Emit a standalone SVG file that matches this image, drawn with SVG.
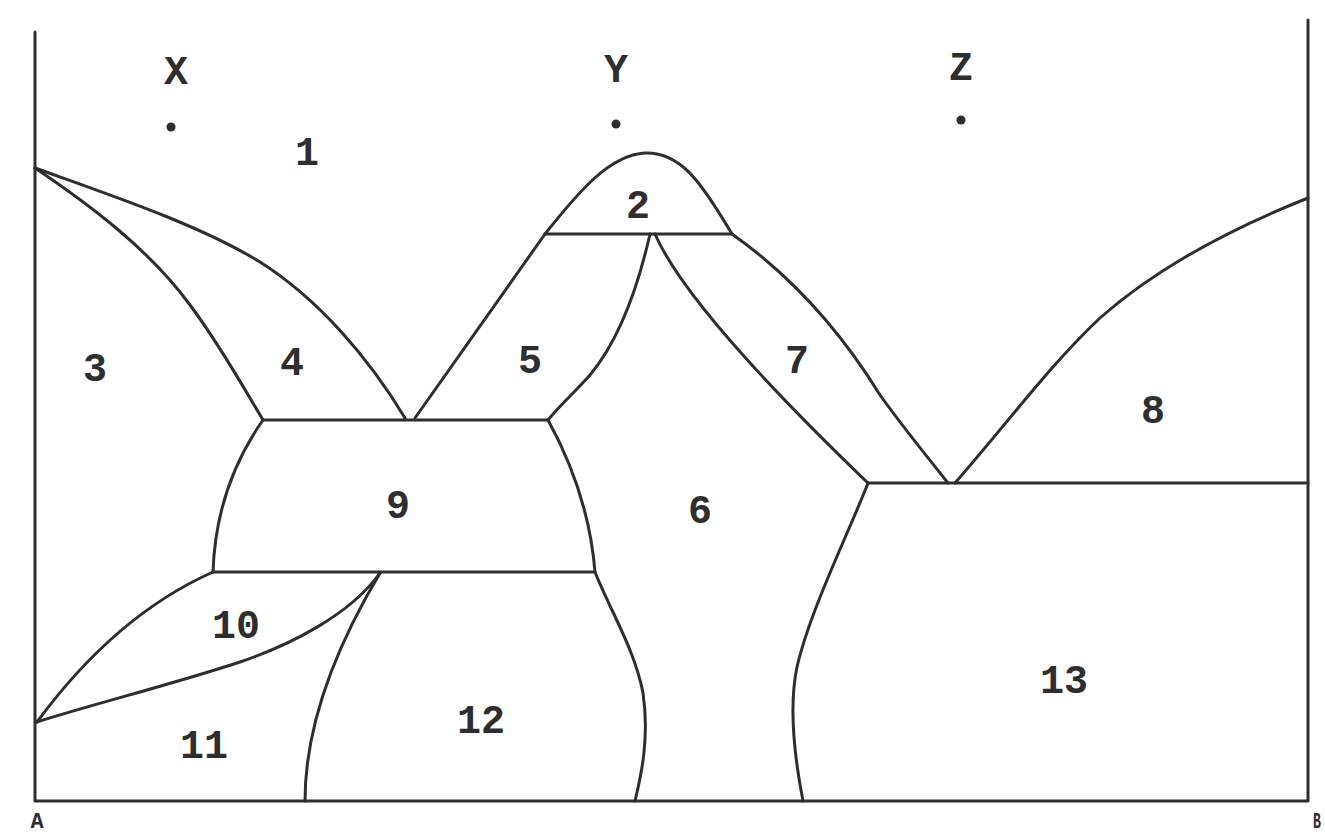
<svg xmlns="http://www.w3.org/2000/svg" width="1325" height="840" viewBox="0 0 1325 840">
<style>
.ln{fill:none;stroke:#2e2e2e;stroke-width:3;stroke-linejoin:round;stroke-linecap:round}
.lb{font-family:"Liberation Mono",monospace;font-weight:bold;font-size:40px;fill:#2e2e2e;text-anchor:middle}
.cn{font-family:"Liberation Mono",monospace;font-weight:bold;font-size:22px;fill:#2e2e2e}
.pt{fill:#2e2e2e}
</style>
<rect width="1325" height="840" fill="#ffffff"/>
<g id="axes">
<path class="ln" d="M35,32 V801 H1308 V20"/>
</g>
<g id="connectors">
<path class="ln" d="M35,168 C110,195 200,225 260,262 C320,300 370,360 405,418"/>
<path class="ln" d="M35,168 C90,205 150,250 190,305 C220,345 245,390 263,420"/>
<path class="ln" d="M263,420 H548"/>
<path class="ln" d="M415,418 L545,234"/>
<path class="ln" d="M545,234 H732"/>
<path class="ln" d="M545,234 C580,190 610,155 645,153 C680,152 700,180 732,234"/>
<path class="ln" d="M650,234 C635,300 615,345 590,375 C575,392 560,405 548,420"/>
<path class="ln" d="M655,234 Q688,310 868,483"/>
<path class="ln" d="M732,234 C790,275 840,330 880,395 C905,430 930,460 948,483"/>
<path class="ln" d="M955,483 C1010,420 1050,365 1100,318 C1160,265 1240,225 1308,198"/>
<path class="ln" d="M868,483 H1308"/>
<path class="ln" d="M868,483 C850,530 810,610 797,667 C788,710 795,760 803,801"/>
<path class="ln" d="M548,420 C570,460 590,510 595,572"/>
<path class="ln" d="M595,572 C610,610 635,650 643,693 C650,740 640,780 635,801"/>
<path class="ln" d="M263,420 C235,460 215,510 213,572"/>
<path class="ln" d="M213,572 H595"/>
<path class="ln" d="M213,572 C150,600 90,650 37,722"/>
<path class="ln" d="M380,573 C350,615 290,645 240,662 C170,685 90,705 37,722"/>
<path class="ln" d="M380,573 C340,640 305,720 305,801"/>
</g>
<g id="point-X"><text class="lb" x="176" y="84">X</text><circle class="pt" cx="171" cy="127" r="4.5"/></g>
<g id="point-Y"><text class="lb" x="616" y="82">Y</text><circle class="pt" cx="616" cy="124" r="4.5"/></g>
<g id="point-Z"><text class="lb" x="961" y="80">Z</text><circle class="pt" cx="961" cy="120" r="4.5"/></g>
<g id="region-1"><text class="lb" x="307" y="165">1</text></g>
<g id="region-2"><text class="lb" x="638" y="218">2</text></g>
<g id="region-3"><text class="lb" x="95" y="381">3</text></g>
<g id="region-4"><text class="lb" x="292" y="375">4</text></g>
<g id="region-5"><text class="lb" x="530" y="373">5</text></g>
<g id="region-6"><text class="lb" x="700" y="523">6</text></g>
<g id="region-7"><text class="lb" x="797" y="373">7</text></g>
<g id="region-8"><text class="lb" x="1153" y="423">8</text></g>
<g id="region-9"><text class="lb" x="398" y="518">9</text></g>
<g id="region-10"><text class="lb" x="236" y="638">10</text></g>
<g id="region-11"><text class="lb" x="204" y="758">11</text></g>
<g id="region-12"><text class="lb" x="481" y="733">12</text></g>
<g id="region-13"><text class="lb" x="1064" y="693">13</text></g>
<g id="corner-A"><text class="cn" x="37" y="828" text-anchor="middle">A</text></g>
<g id="corner-B"><text class="cn" transform="translate(1313,828) scale(0.6,1)" x="0" y="0">B</text></g>
</svg>
